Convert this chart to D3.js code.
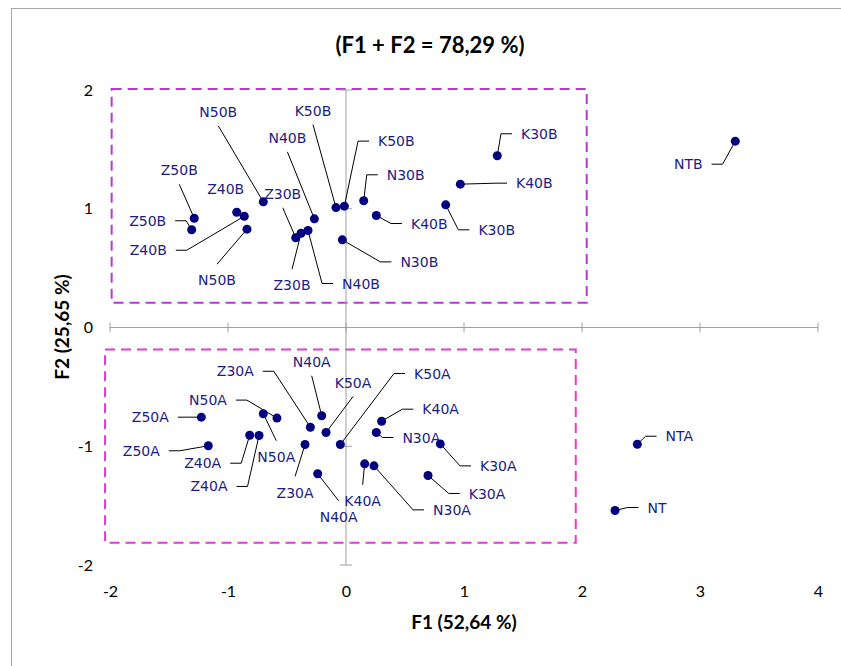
<!DOCTYPE html>
<html>
<head>
<meta charset="utf-8">
<script src="https://cdn.jsdelivr.net/npm/d3@7"></script>
<style>
  html, body { margin: 0; padding: 0; background: #ffffff; }
  svg { display: block; }
</style>
</head>
<body>
<div id="chart"></div>
<script>
// Observation labels (PCA biplot, F1 x F2)
const names = [
  'Z50B', 'Z50B', 'Z40B', 'Z40B', 'N50B', 'N50B', 'Z30B', 'Z30B', 'N40B', 'N40B',
  'K50B', 'K50B', 'N30B', 'N30B', 'K40B', 'K30B', 'K40B', 'K30B', 'NTB',
  'Z50A', 'Z50A', 'Z40A', 'Z40A', 'N50A', 'N50A', 'Z30A', 'N40A', 'K50A', 'Z30A',
  'N40A', 'K50A', 'K40A', 'N30A', 'K30A', 'K40A', 'N30A', 'K30A', 'NTA', 'NT'
];

// F1 scores
const f1 = [
  -1.286, -1.308, -0.926, -0.862, -0.839, -0.701, -0.426, -0.381, -0.322, -0.268,
  -0.085, -0.014, -0.031, 0.150, 0.257, 1.282, 0.969, 0.845, 3.299,
  -1.226, -1.167, -0.816, -0.737, -0.701, -0.585, -0.302, -0.206, -0.169, -0.347,
  -0.240, -0.048, 0.302, 0.257, 0.799, 0.158, 0.237, 0.695, 2.469, 2.280
];

// F2 scores
const f2 = [
  0.920, 0.823, 0.971, 0.937, 0.828, 1.058, 0.756, 0.794, 0.817, 0.915,
  1.010, 1.022, 0.738, 1.067, 0.943, 1.446, 1.207, 1.033, 1.569,
  -0.755, -0.996, -0.907, -0.909, -0.726, -0.763, -0.840, -0.743, -0.884, -0.985,
  -1.232, -0.985, -0.789, -0.884, -0.980, -1.148, -1.165, -1.246, -0.983, -1.541
];

const xTicks = [-2, -1, 0, 1, 2, 3, 4];
const yTicks = [-2, -1, 0, 1, 2];

// Group boxes in data units: [x0, x1, y0, y1]
const boxB = [-1.986, 2.04, 0.208, 2.008];
const boxA = [-2.042, 1.947, -1.812, -0.186];

// Label layout: offset of label centre from its point (px) and leader side
// side: l = leader enters on label's left, r = right, t = top, b = bottom, n = none
const labelLayout = [
  [-15, -48, 'b'], [-44, -9, 'r'], [-11, -23, 'n'], [-96, 34, 'r'], [-30, 51, 't'],
  [-45, -90, 'b'], [-13, -44, 'b'], [-9, 52, 't'], [53, 53, 'l'], [-27, -81, 'b'],
  [-23, -97, 'b'], [52, -65, 'l'], [77, 22, 'l'], [42, -26, 'l'], [53, 8, 'l'],
  [42, -22, 'l'], [74, -1, 'l'], [51, 25, 'l'], [-47, 23, 'r'],
  [-51, 0, 'r'], [-67, 5, 'r'], [-47, 28, 'r'], [-50, 51, 'r'], [13, 43, 't'],
  [-69, -18, 'r'], [-75, -56, 'r'], [-10, -54, 'b'], [27, -50, 'b'], [-10, 48, 't'],
  [21, 43, 't'], [92, -71, 'l'], [59, -12, 'l'], [45, 5, 'l'], [58, 22, 'l'],
  [-2, 37, 't'], [78, 44, 'l'], [59, 18, 'l'], [42, -8, 'l'], [42, -3, 'l']
];

const width = 841;
const height = 666;
const tickFont = 'Lato, "Open Sans", sans-serif';
const labelFont = '"DejaVu Sans", Verdana, sans-serif';
const navy = '#000080';

const svg = d3.select('#chart')
  .append('svg')
  .attr('width', width)
  .attr('height', height);

// Chart area frame (only top/left edges fall inside the picture)
svg.append('rect')
  .attr('x', 11.5)
  .attr('y', 8.5)
  .attr('width', width)
  .attr('height', height)
  .attr('fill', 'none')
  .attr('stroke', '#a6a6a6')
  .attr('stroke-width', 1);

const x = d3.scaleLinear().domain([-2, 4]).range([110, 818]);
const y = d3.scaleLinear().domain([-2, 2]).range([565, 90]);

// Dashed group boxes
const drawBox = (b, color) => {
  svg.append('rect')
    .attr('x', x(b[0]))
    .attr('y', y(b[3]))
    .attr('width', x(b[1]) - x(b[0]))
    .attr('height', y(b[2]) - y(b[3]))
    .attr('fill', 'none')
    .attr('stroke', color)
    .attr('stroke-width', 2)
    .attr('stroke-dasharray', '10,6');
};
drawBox(boxB, '#b53ad3');
drawBox(boxA, '#e03cd2');

// Axes crossing at the origin
const axisColor = '#a0a0a0';
const axes = svg.append('g').attr('stroke', axisColor).attr('stroke-width', 1);

axes.append('line')
  .attr('x1', x(-2)).attr('x2', x(4))
  .attr('y1', y(0)).attr('y2', y(0));
axes.selectAll('.xtick')
  .data(xTicks)
  .join('line')
  .attr('class', 'xtick')
  .attr('x1', d => x(d)).attr('x2', d => x(d))
  .attr('y1', y(0) - 5).attr('y2', y(0) + 5);

axes.append('line')
  .attr('x1', x(0)).attr('x2', x(0))
  .attr('y1', y(2)).attr('y2', y(-2));
axes.selectAll('.ytick')
  .data(yTicks)
  .join('line')
  .attr('class', 'ytick')
  .attr('x1', x(0) - 6).attr('x2', x(0) + 6)
  .attr('y1', d => y(d)).attr('y2', d => y(d));

// Tick labels sit at the low edges of the plot (plain hyphen minus)
const fmt = d => String(d);

const xAxis = d3.axisBottom(x).tickValues(xTicks).tickSize(0).tickPadding(0).tickFormat(fmt);
svg.append('g')
  .attr('transform', 'translate(0,586)')
  .call(xAxis)
  .call(g => g.select('.domain').remove())
  .selectAll('text')
  .attr('font-family', tickFont)
  .attr('font-size', '16px')
  .attr('fill', '#000');

const yAxis = d3.axisLeft(y).tickValues(yTicks).tickSize(0).tickPadding(0).tickFormat(fmt);
svg.append('g')
  .attr('transform', 'translate(93,0)')
  .call(yAxis)
  .call(g => g.select('.domain').remove())
  .selectAll('text')
  .attr('font-family', tickFont)
  .attr('font-size', '16px')
  .attr('fill', '#000');

// Titles
svg.append('text')
  .attr('x', 430)
  .attr('y', 53)
  .attr('text-anchor', 'middle')
  .attr('font-family', tickFont)
  .attr('font-weight', 'bold')
  .attr('font-size', '22px')
  .text('(F1 + F2 = 78,29 %)');

svg.append('text')
  .attr('x', 464)
  .attr('y', 629)
  .attr('text-anchor', 'middle')
  .attr('font-family', tickFont)
  .attr('font-weight', 'bold')
  .attr('font-size', '19px')
  .text('F1 (52,64 %)');

svg.append('text')
  .attr('transform', 'translate(69,327) rotate(-90)')
  .attr('text-anchor', 'middle')
  .attr('font-family', tickFont)
  .attr('font-weight', 'bold')
  .attr('font-size', '19px')
  .text('F2 (25,65 %)');

// Build point records
const points = names.map((n, i) => ({
  name: n,
  px: x(f1[i]),
  py: y(f2[i]),
  cx: x(f1[i]) + labelLayout[i][0],
  cy: y(f2[i]) + labelLayout[i][1],
  side: labelLayout[i][2]
}));

const leaderGroup = svg.append('g');
const labelGroup = svg.append('g');

labelGroup.selectAll('text')
  .data(points)
  .join('text')
  .attr('x', d => d.cx)
  .attr('y', d => d.cy)
  .attr('dy', '0.36em')
  .attr('text-anchor', 'middle')
  .attr('font-family', labelFont)
  .attr('font-size', '14px')
  .attr('fill', '#1c1c84')
  .text(d => d.name)
  .each(function (d) { d.w = this.getComputedTextLength(); });

// Leader lines: short horizontal tail next to the label, then to the point
const gap = 9;
const tail = 11;
const leaderPath = d => {
  if (d.side === 'l') {
    const ex = d.cx - d.w / 2 - gap;
    return `M${d.px},${d.py}L${ex - tail},${d.cy}L${ex},${d.cy}`;
  }
  if (d.side === 'r') {
    const ex = d.cx + d.w / 2 + gap;
    return `M${d.px},${d.py}L${ex + tail},${d.cy}L${ex},${d.cy}`;
  }
  if (d.side === 't') return `M${d.px},${d.py}L${d.cx},${d.cy - 16}`;
  if (d.side === 'b') return `M${d.px},${d.py}L${d.cx},${d.cy + 14}`;
  return null;
};

leaderGroup.selectAll('path')
  .data(points.filter(d => d.side !== 'n'))
  .join('path')
  .attr('d', leaderPath)
  .attr('fill', 'none')
  .attr('stroke', '#000')
  .attr('stroke-width', 1);

// Markers
svg.append('g')
  .selectAll('circle')
  .data(points)
  .join('circle')
  .attr('cx', d => d.px)
  .attr('cy', d => d.py)
  .attr('r', 4.5)
  .attr('fill', navy);
</script>
</body>
</html>
